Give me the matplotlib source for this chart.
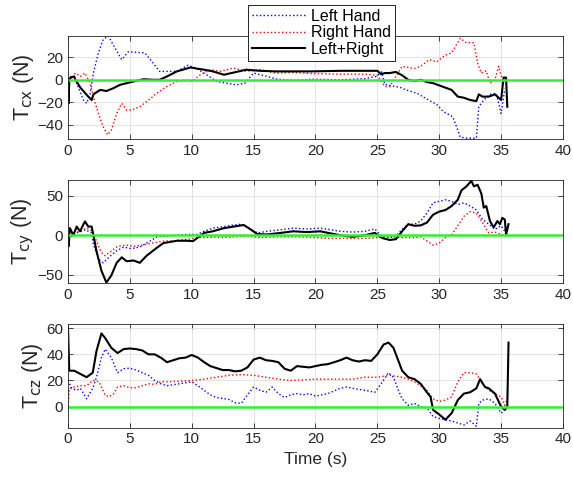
import numpy as np
import matplotlib
matplotlib.use('Agg')
import matplotlib.pyplot as plt

plt.rcParams['font.family'] = ['Liberation Sans', 'DejaVu Sans']

# ---- T_cx ----
cx_left_t = [0, 0.3, 0.7, 1.24, 1.5, 1.78, 2.05, 2.45, 2.85, 3.26, 3.66, 4.34, 4.87, 5.55, 6.2, 6.8, 7.4,
             8.8, 9.7, 10.4, 11.2, 12.0, 12.8, 13.6, 14.3, 15.0, 16.1, 16.9, 18.2, 19.8, 22, 24, 24.9,
             25.35, 25.6, 26.9, 27.3, 28.2, 29.3, 29.8, 30.3, 31.1, 31.7, 32.2, 33.0, 33.2, 33.6, 34.1,
             34.6, 35.0, 35.3]
cx_left_v = [0, 2, -3, -18, -21, -13, 6, 24, 36, 39, 31, 18, 25, 24.5, 24, 16, 7.5,
             7.5, 13, 10, 4.5, -1.5, -3, -4.5, -3, 6, 3, 0.5, -0.5, 0.5, 0, 1, 3,
             7, -4, -7, -9, -12, -19, -22, -28, -33, -51, -52, -52, -24, -18, -13,
             -12, -30, -8]

cx_right_t = [0, 0.3, 0.6, 1.0, 1.37, 1.78, 2.05, 2.45, 2.85, 3.2, 3.5, 3.93, 4.34, 4.74, 5.14, 5.8,
              6.35, 7.17, 7.97, 8.8, 9.6, 10.0, 10.7, 11.5, 12.3, 13.4, 14.4, 15.5, 16.8, 18.2, 19.8,
              22, 24, 25.0, 25.6, 26.0, 27.0, 28.0, 28.5, 29.2, 29.8, 30.5, 31.0, 31.7, 32.2, 32.8,
              33.1, 33.4, 33.8, 34.1, 34.5, 34.8, 35.1, 35.5]
cx_right_v = [6, 1.5, 6, 3, 6, -3, -15, -30, -42, -49, -45, -30, -21, -27, -27, -24,
              -19.5, -12, -6, -1.5, 0, -1.5, 4.5, 9, 7.5, 10.5, 7.5, 9, 6, 6.5, 5.5,
              5, 5, 4, -6, -6, 12, 10, 12, 18, 16, 22, 24, 37, 33, 33,
              15, 6, 8, -3, 0, 12, 0, 0]

cx_sum_t = [0, 0.05, 0.1, 0.2, 0.5, 0.6, 1.0, 1.64, 1.91, 2.05, 2.6, 3.1, 3.66, 4.2, 4.74, 5.3, 6.1,
            6.9, 7.4, 8.0, 8.8, 9.9, 10.4, 11.0, 11.7, 12.6, 13.4, 14.4, 15.5, 16.8, 18.2, 19.8,
            22, 24, 25.0, 25.3, 25.6, 26.0, 26.5, 27.0, 27.5, 28.0, 28.5, 29.0, 29.5, 30.0, 30.5,
            31.0, 31.5, 32.0, 32.5, 33.0, 33.2, 33.5, 34.0, 34.5, 35.0, 35.2, 35.4, 35.5]
cx_sum_v = [0, -21, 0, 2, 3, 0, -7, -15, -18, -13, -9, -10, -7.5, -4.5, -3, -1.5, 0.5,
            0, 0, 3, 7.5, 11, 10, 9, 7.5, 4.5, 6.5, 9, 8, 7.5, 7.5, 7.5,
            8, 8, 8, 5, 6, 6, 7, 4, 0, -1, 0, -2, -3, -5, -7,
            -9, -15, -16, -18, -19, -13, -15, -15, -13, -18, 2, 2, -24]

# ---- T_cy ----
cy_left_t = [0, 0.3, 0.7, 1.4, 1.9, 2.05, 2.45, 2.85, 3.3, 3.9, 4.5, 5.1, 5.8, 6.35, 7.2, 8.0, 8.8,
             9.6, 10.4, 11.0, 11.7, 12.6, 13.4, 14.0, 14.6, 15.3, 16.1, 17.2, 18.2, 19.3, 20.4, 21,
             22, 23, 24, 24.8, 25.3, 26, 26.5, 27, 27.5, 28, 28.5, 29, 29.5, 30, 30.5, 31, 31.5, 32,
             32.5, 33, 33.5, 34, 34.5, 35, 35.3]
cy_left_v = [-5, -1, 3, 7, 3, -12, -30, -35, -28, -20, -15, -17, -15, -10, -2, -1, 0,
             1, 1, 5, 9, 11, 13, 14, 9, 3, 5, 7, 9, 8, 9, 7.5,
             5, 4, 5, 8, -1, -3, -1, 7.5, 14, 14, 18, 28, 41, 43, 45, 43, 39, 41,
             37, 32, 20, 14, 7.5, 12, 5]

cy_right_t = [0, 0.4, 1.0, 1.5, 2.0, 2.3, 2.7, 3.0, 3.5, 4.0, 4.7, 5.3, 6.0, 6.8, 7.7, 8.5, 9.5, 10.5,
              11.5, 13, 14.5, 15.5, 17, 18.5, 20, 21, 22, 23, 24, 25, 26, 27, 28, 28.5, 29, 29.5,
              30, 30.5, 31, 31.5, 32, 32.5, 33, 33.5, 34, 34.5, 35, 35.3]
cy_right_v = [9, 3, 5, 9, 5, -7.5, -22, -26, -20, -14, -12.5, -14, -12.5, -10, -7.5, -7, -5.5, -3,
              -2.5, -2.5, -1, -3, -2, -2, -3, -4, -4, -4, -4, -3, -2, -3, -3, -2, -7, -12.5,
              -10, -3, 1, 12, 24, 30, 28, 16, 3, 4, 1, 0]

cy_sum_t = [0, 0.05, 0.15, 0.43, 0.7, 0.97, 1.37, 1.64, 1.91, 2.05, 2.3, 2.7, 3.1, 3.5, 3.93, 4.34,
            4.74, 5.3, 5.8, 6.35, 7.17, 7.7, 8.8, 9.6, 10.1, 11.0, 11.7, 12.6, 13.4, 14.2, 14.6,
            15.3, 16.1, 17.2, 18.2, 19.3, 20.4, 21, 22, 23, 24, 24.8, 25.2, 25.5, 26, 26.5, 27,
            27.5, 28, 28.5, 29, 29.5, 30, 30.5, 31, 31.5, 31.8, 32.2, 32.6, 32.8, 33.1, 33.4, 33.6,
            33.8, 34.1, 34.4, 34.7, 34.9, 35.1, 35.3, 35.4, 35.6]
cy_sum_v = [-7.5, -14, 9, 0, 11, 5, 17.5, 11, 11, 0, -20, -45, -60, -51, -35, -28,
            -33, -32, -35, -26, -16, -10, -7, -7, -7.5, 3, 5, 9, 11, 13, 9,
            1.5, 1, 3, 5, 4, 5, 3, 0, -2, 0, 3, -2, -4, -6, -5, 5,
            14, 12, 12.5, 16, 26, 30, 32, 37, 45, 57, 62, 69, 62, 64, 53, 35,
            37, 18, 10, 18, 14, 22, 20, 1, 14]

# ---- T_cz ----
cz_left_t = [0, 0.3, 0.7, 1.0, 1.5, 2.0, 2.3, 2.7, 3.0, 3.5, 4.0, 4.5, 5.0, 5.5, 6, 6.5, 7, 7.5, 8, 9,
             10, 10.5, 11, 11.5, 12, 13, 13.5, 14, 14.5, 15, 15.5, 16, 16.5, 17, 17.5, 18, 18.5, 19,
             19.5, 20, 21, 22, 22.5, 23, 24, 24.8, 25.3, 25.9, 26.3, 26.7, 27, 27.5, 28, 28.5, 29,
             29.5, 30, 30.5, 31, 31.5, 32, 32.5, 33, 33.2, 33.5, 34, 34.5, 35, 35.3, 35.5]
cz_left_v = [20, 14, 12.5, 14, 6, 14, 22.5, 37.5, 44, 37.5, 26, 29, 29.5, 28, 26, 24, 20, 17.5, 16, 17.5,
             19, 16, 12.5, 9, 7, 5.5, 3, 2.5, 9, 15, 12.5, 11, 15, 10, 7, 9, 10, 9,
             10, 8, 10, 14, 15, 14, 12.5, 11, 17.5, 26, 22.5, 12.5, 6, 1, 2.5, 0, -1,
             -7.5, -9, -10, -11, -12.5, -14, -11, -15, 2.5, 5, 6, 2.5, -5, -2.5, 0]

cz_right_t = [0, 0.1, 0.5, 1, 1.5, 2, 2.5, 3.0, 3.3, 3.7, 4, 4.5, 5, 5.5, 6, 6.5, 7, 7.5, 8, 9, 10, 11,
              12, 13, 14, 15, 16, 17, 18, 19, 20, 21, 22, 23, 24, 25, 26, 27, 27.5, 28, 28.5, 29,
              29.5, 30, 30.5, 31, 31.5, 32, 32.5, 33, 33.5, 34, 34.5, 35, 35.3, 35.5, 35.6]
cz_right_v = [-2.5, 14, 15, 16, 16, 20, 19, 9, 7.5, 10, 15, 16, 14.5, 14.5, 16, 17.5, 17, 19, 19, 19.5, 20, 21,
              22.5, 24, 24.5, 24, 22.5, 21, 20, 20.5, 21, 21, 21, 21, 22.5, 22.5, 24, 22.5, 21, 19, 16, 12.5,
              6, 4, 5, 7.5, 19, 26, 26, 25, 17.5, 12.5, 10, 7.5, 1, 6, 37]

cz_sum_t = [0, 0.1, 0.5, 1.0, 1.5, 2.0, 2.3, 2.7, 3.0, 3.5, 4.0, 4.5, 5, 5.5, 6, 6.5, 7, 7.5, 8, 8.5,
            9, 9.5, 10, 10.5, 11, 11.5, 12, 12.5, 13, 13.5, 14, 14.5, 15, 15.5, 16, 16.5, 17, 17.5,
            18, 18.5, 19, 19.5, 20, 20.5, 21, 21.5, 22, 22.5, 23, 23.5, 24, 24.5, 25, 25.5, 25.9,
            26.3, 26.7, 27, 27.5, 28, 28.5, 29, 29.3, 29.5, 30, 30.5, 31, 31.5, 32, 32.5, 33, 33.3,
            33.7, 34, 34.5, 35, 35.3, 35.5, 35.6]
cz_sum_v = [60, 27.5, 27.5, 25, 22.5, 26, 42.5, 56, 52.5, 45, 41, 44, 44.5, 44, 43, 40, 40, 37.5, 34, 35.5,
            37, 37.5, 39.5, 37.5, 34, 31, 29.5, 28, 28, 27, 27.5, 30, 36, 37.5, 35.5, 35, 34, 29,
            27.5, 31, 30.5, 30, 31, 32, 32.5, 34, 35.5, 37.5, 35.5, 34.5, 35.5, 35, 40, 47.5, 49,
            45, 35, 27.5, 22.5, 21, 17.5, 11, 7.5, -2.5, -6, -10, -5, 5, 10, 11, 14, 21,
            15, 14, 10, 0, -2.5, 0, 49]

panels = [
    (cx_left_t, cx_left_v, cx_right_t, cx_right_v, cx_sum_t, cx_sum_v, (-53, 39), [-40, -20, 0, 20], 'cx'),
    (cy_left_t, cy_left_v, cy_right_t, cy_right_v, cy_sum_t, cy_sum_v, (-61, 70), [-50, 0, 50], 'cy'),
    (cz_left_t, cz_left_v, cz_right_t, cz_right_v, cz_sum_t, cz_sum_v, (-16, 63), [0, 20, 40, 60], 'cz'),
]

fig = plt.figure(figsize=(5.73, 4.84), dpi=100)
tops = [0.9256, 0.628, 0.330]
h = 0.2134
axes = []
for i, (lt, lv, rt, rv, st, sv, yl, yt, name) in enumerate(panels):
    ax = fig.add_axes([0.1187, tops[i] - h, 0.8638, h])
    ax.plot(lt, lv, ':', color='#0000ff', lw=1.0, label='Left Hand')
    ax.plot(rt, rv, ':', color='#ff0000', lw=1.0, label='Right Hand')
    ax.plot(st, sv, '-', color='black', lw=1.5, label='Left+Right')
    ax.axhline(0, color='#33ee33', lw=1.8)
    ax.set_xlim(0, 40)
    ax.set_ylim(*yl)
    ax.set_xticks(np.arange(0, 41, 5))
    ax.set_yticks(yt)
    ax.grid(True, color='#dfdfdf', lw=0.6)
    ax.set_axisbelow(True)
    ax.tick_params(direction='in', top=True, right=True, labelsize=11,
                   colors='#262626', length=3.5, width=0.6)
    for s in ax.spines.values():
        s.set_color('#262626')
        s.set_linewidth(0.6)
    ax.set_ylabel(r'T$_{\mathrm{' + name + '}}$ (N)', fontsize=15.5, color='#262626', labelpad=1)
    axes.append(ax)

axes[-1].set_xlabel('Time (s)', fontsize=12.5, color='#262626', labelpad=4)

handles, labels = axes[0].get_legend_handles_labels()
leg = fig.legend(handles, labels, loc='upper left', bbox_to_anchor=(0.433, 0.99),
                 fontsize=11.5, frameon=True, fancybox=False, edgecolor='black',
                 framealpha=1, borderaxespad=0, handlelength=3.3, borderpad=0.25,
                 labelspacing=0.1, handletextpad=0.4)
leg.get_frame().set_linewidth(0.6)

fig.savefig('out.png', dpi=100)
